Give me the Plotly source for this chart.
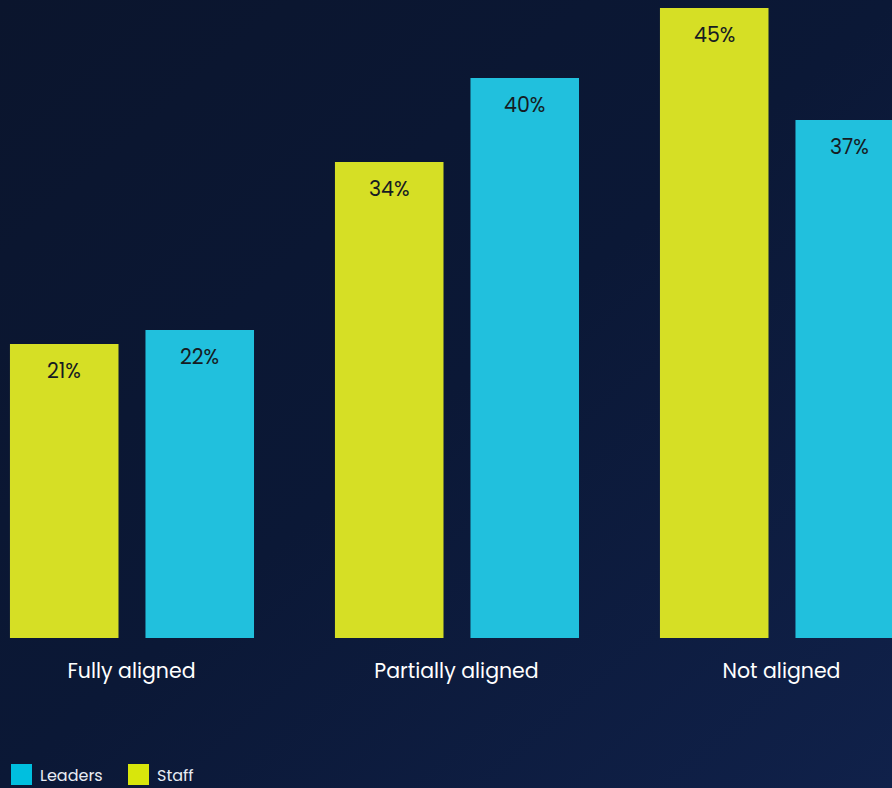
import base64
import plotly.graph_objects as go

categories = ["Fully aligned", "Partially aligned", "Not aligned"]
staff = [21, 34, 45]
leaders = [22, 40, 37]
series_names = ["Leaders", "Staff"]

STAFF_COLOR = "#d6df25"
LEADER_COLOR = "#21c0dd"
STAFF_KEY = "#d8e60c"
LEADER_KEY = "#00bfdf"
FONT = "Poppins, Inter, 'Open Sans', sans-serif"

W, H = 892, 788
PLOT_TOP, PLOT_BOTTOM = 8, 638
PLOT_H = PLOT_BOTTOM - PLOT_TOP

xs = list(range(len(categories)))
BAR_W = 0.334
STAFF_OFF = -0.374
LEADER_OFF = 0.043


def paper_y(py):
    return (PLOT_BOTTOM - py) / PLOT_H


fig = go.Figure()
fig.add_trace(go.Bar(
    x=xs, y=leaders, name=series_names[0], width=BAR_W, offset=LEADER_OFF,
    marker=dict(color=LEADER_COLOR, line=dict(width=0)), showlegend=False,
))
fig.add_trace(go.Bar(
    x=xs, y=staff, name=series_names[1], width=BAR_W, offset=STAFF_OFF,
    marker=dict(color=STAFF_COLOR, line=dict(width=0)), showlegend=False,
))

# value labels just inside the top of each bar
for vals, off in ((staff, STAFF_OFF), (leaders, LEADER_OFF)):
    for x, v in zip(xs, vals):
        fig.add_annotation(
            x=x + off + BAR_W / 2, y=v, text=f"{v}%", showarrow=False,
            xref="x", yref="y", yanchor="top", yshift=-10,
            font=dict(family=FONT, size=20.5, color="#161b22"),
        )

# legend: coloured squares with labels, bottom left
legend_items = [(series_names[0], LEADER_KEY, 11), (series_names[1], STAFF_KEY, 128)]
for name, color, px in legend_items:
    fig.add_shape(type="rect", xref="paper", yref="paper",
                  x0=px / W, x1=(px + 21) / W,
                  y0=paper_y(785), y1=paper_y(764),
                  fillcolor=color, line=dict(width=0), layer="above")
    fig.add_annotation(xref="paper", yref="paper", x=(px + 28) / W, y=paper_y(788),
                       xanchor="left", yanchor="bottom", showarrow=False, text=name,
                       borderpad=0,
                       font=dict(family=FONT, size=16, color="#e8ecf4"))

# diagonal navy gradient backdrop covering the whole page
svg = (
    f'<svg xmlns="http://www.w3.org/2000/svg" width="{W}" height="{H}">'
    '<defs><linearGradient id="g" x1="0" y1="0" x2="1" y2="1">'
    '<stop offset="0" stop-color="#0b152d"/>'
    '<stop offset="0.5" stop-color="#0b1836"/>'
    '<stop offset="1" stop-color="#10214a"/>'
    '</linearGradient></defs>'
    f'<rect width="{W}" height="{H}" fill="url(#g)"/></svg>'
)
src = "data:image/svg+xml;base64," + base64.b64encode(svg.encode()).decode()
fig.add_layout_image(dict(source=src, xref="paper", yref="paper",
                          x=0, y=paper_y(0), sizex=1, sizey=H / PLOT_H,
                          xanchor="left", yanchor="top",
                          sizing="stretch", layer="below"))

fig.update_layout(
    width=W, height=H,
    margin=dict(l=0, r=0, t=PLOT_TOP, b=H - PLOT_BOTTOM),
    paper_bgcolor="#0b1733", plot_bgcolor="rgba(0,0,0,0)",
    barmode="overlay", showlegend=False,
    font=dict(family=FONT, color="white"),
)
fig.update_xaxes(
    range=[-0.4046, 2.3400], tickvals=xs, ticktext=categories,
    showgrid=False, zeroline=False, showline=False, ticks="",
    tickfont=dict(family=FONT, size=20.5, color="white"), ticklabelstandoff=18,
)
fig.update_yaxes(range=[0, 45], visible=False, showgrid=False, zeroline=False)

fig.write_html("out.html")
